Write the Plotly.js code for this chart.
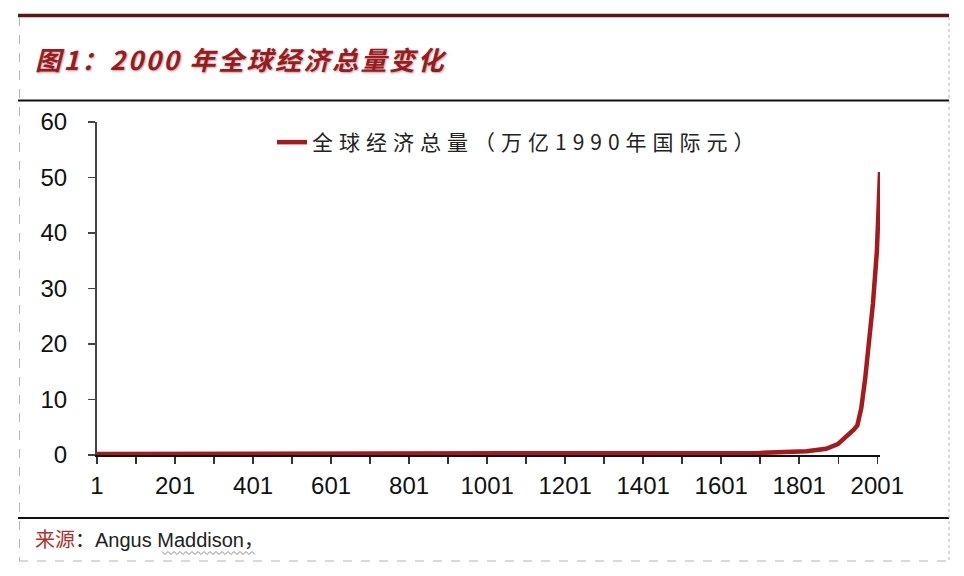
<!DOCTYPE html>
<html>
<head>
<meta charset="utf-8">
<script src="https://cdn.plot.ly/plotly-3.0.1.min.js"></script>
<style>
html,body{margin:0;padding:0;background:#fff;}
#chart{width:964px;height:576px;}
.legendtext{letter-spacing:6px;}
.gtitle{letter-spacing:2.5px;}
</style>
</head>
<body>
<div id="chart"></div>
<script>
// ---- data (world GDP, trillion 1990 international dollars; Angus Maddison) ----
const years = [1, 1000, 1500, 1600, 1700, 1820, 1870, 1900, 1913, 1929, 1940, 1950, 1960, 1970, 1980, 1990, 2000, 2008];
const gdp   = [0.18, 0.21, 0.25, 0.33, 0.37, 0.69, 1.11, 1.97, 2.73, 3.70, 4.51, 5.34, 8.43, 13.76, 20.03, 27.36, 36.69, 50.97];
const xTickVals = [1, 201, 401, 601, 801, 1001, 1201, 1401, 1601, 1801, 2001];
const xTickText = ["1", "201", "401", "601", "801", "1001", "1201", "1401", "1601", "1801", "2001"];
const xMinorVals = [101, 301, 501, 701, 901, 1101, 1301, 1501, 1701, 1901];
const yTickVals = [0, 10, 20, 30, 40, 50, 60];
const seriesName = "全球经济总量（万亿1990年国际元）";
const titleText = "图1：2000 年全球经济总量变化";
const sourceText = "<span style='color:#b0302a'>来源</span>：Angus Maddison，";

// ---- layout geometry ----
const W = 964, H = 576;
const M = {l: 97, r: 84, t: 122, b: 121};
const PW = W - M.l - M.r, PH = H - M.t - M.b;
const px = x => (x - M.l) / PW;
const py = y => (H - M.b - y) / PH;

function hline(y, x0, x1, color, width, dash) {
  return {type: 'line', xref: 'paper', yref: 'paper', x0: px(x0), x1: px(x1), y0: py(y), y1: py(y),
          line: {color: color, width: width, dash: dash || 'solid'}};
}
function vline(x, y0, y1, color, width, dash) {
  return {type: 'line', xref: 'paper', yref: 'paper', x0: px(x), x1: px(x), y0: py(y0), y1: py(y1),
          line: {color: color, width: width, dash: dash || 'solid'}};
}
// wavy (spell-check style) underline
let wave = '';
for (let i = 0, x = 162; x <= 257; i++, x += 3) {
  const y = (i % 2 === 0) ? 551.5 : 554.5;
  wave += (i === 0 ? 'M' : 'L') + px(x) + ',' + py(y) + ' ';
}

const shapes = [
  hline(15.5, 18, 949, '#5a1616', 3.5),
  hline(100.5, 18, 949, '#111111', 2),
  hline(518, 18, 949, '#111111', 2),
  hline(561, 19, 949, '#b5b5b5', 1, 'dash'),
  vline(19.5, 17, 561, '#b5b5b5', 1, 'dash'),
  vline(949, 17, 561, '#b5b5b5', 1, 'dot'),
  {type: 'path', xref: 'paper', yref: 'paper', path: wave, line: {color: '#8a8a8a', width: 1}}
];

const trace = {
  x: years, y: gdp, type: 'scatter', mode: 'lines', name: seriesName,
  line: {color: '#a8191d', width: 4.5}
};

const layout = {
  width: W, height: H,
  margin: M,
  paper_bgcolor: '#ffffff', plot_bgcolor: '#ffffff',
  showlegend: true,
  title: {
    text: titleText,
    x: 35 / W, xanchor: 'left', xref: 'container',
    y: 1 - 61 / H, yanchor: 'middle', yref: 'container',
    font: {family: 'Noto Sans CJK SC, sans-serif', size: 26, color: '#9a1b1f', weight: 'bold', style: 'italic',
           shadow: '1px 1px 2px #c8a0a0'}
  },
  legend: {
    x: px(272), xanchor: 'left', y: py(122), yanchor: 'top',
    bgcolor: 'rgba(0,0,0,0)', borderwidth: 0,
    font: {family: 'Noto Sans CJK SC, sans-serif', size: 21, color: '#222'}
  },
  xaxis: {
    type: 'linear', range: [1, 2008], fixedrange: true,
    showgrid: false, zeroline: false,
    showline: true, linecolor: '#111', linewidth: 2,
    tickmode: 'array', tickvals: xTickVals, ticktext: xTickText,
    ticks: 'outside', ticklen: 7, tickwidth: 1.5, tickcolor: '#333',
    ticklabelstandoff: 1,
    minor: {tickmode: 'array', tickvals: xMinorVals, ticks: 'outside', ticklen: 7, tickwidth: 1.5, tickcolor: '#333', showgrid: false},
    tickfont: {family: 'Liberation Sans, Arial, sans-serif', size: 24, color: '#111'}
  },
  yaxis: {
    range: [0, 60], fixedrange: true,
    showgrid: false, zeroline: false,
    showline: true, linecolor: '#444', linewidth: 2,
    tickmode: 'array', tickvals: yTickVals,
    ticks: 'outside', ticklen: 7, tickwidth: 1.5, tickcolor: '#444',
    ticklabelstandoff: 16,
    tickfont: {family: 'Liberation Sans, Arial, sans-serif', size: 24, color: '#111'}
  },
  shapes: shapes,
  annotations: [{
    xref: 'paper', yref: 'paper', x: px(33), y: py(540), xanchor: 'left', yanchor: 'middle',
    showarrow: false, text: sourceText,
    font: {family: 'Liberation Sans, Noto Sans CJK SC, sans-serif', size: 20, color: '#222'}
  }]
};

Plotly.newPlot('chart', [trace], layout, {displayModeBar: false, staticPlot: true});
</script>
</body>
</html>
